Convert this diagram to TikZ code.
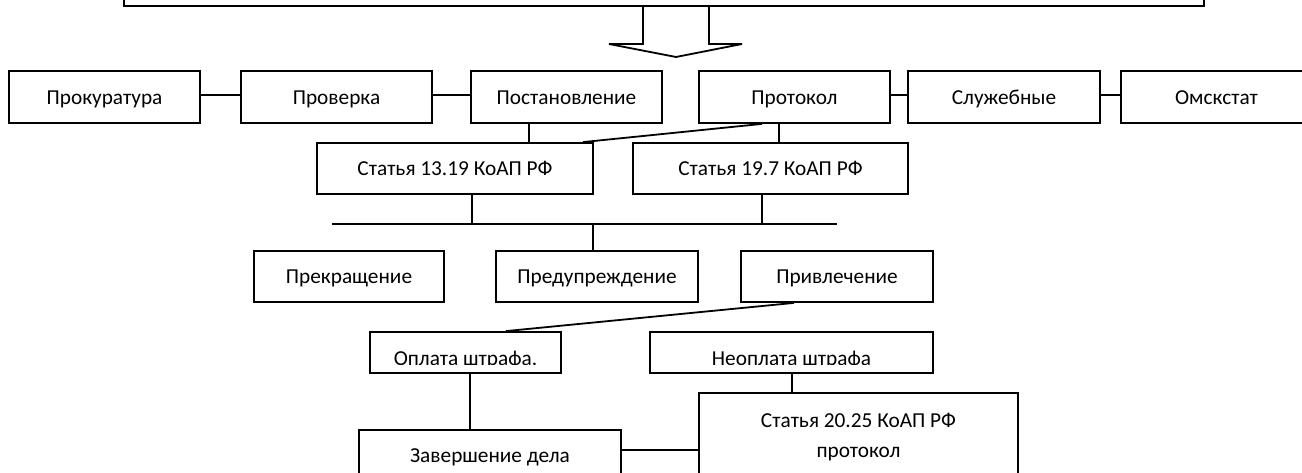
\documentclass[tikz,border=0pt]{standalone}
\usepackage{fontspec}
\setmainfont{Carlito}
\usetikzlibrary{calc}
\tikzset{
  txt/.style={font=\fontsize{21.3}{25}\selectfont, text height=17pt, text depth=2.5pt},
  box/.style={draw, line width=1.8pt, rectangle, inner sep=0pt, txt},
  conn/.style={draw, line width=1.8pt},
  lbl/.style={inner sep=0pt, txt}
}
\begin{document}
\begin{tikzpicture}[x=1pt,y=-1pt]
\useasboundingbox (0,0) rectangle (1302,473);
\clip (0,0) rectangle (1302,473);
% top box
\node[box, minimum width=1080pt, minimum height=80pt] (top) at (664,-34) {};
% block arrow
\draw[line width=1.8pt, line join=miter, fill=white] (643,6) -- (643,44) -- (609,44) -- (676,57) -- (742,44) -- (709,44) -- (709,6) -- cycle;
% row 1
\node[box, minimum width=191pt, minimum height=52pt] (prok) at (104.5,97) {Прокуратура};
\node[box, minimum width=191pt, minimum height=52pt] (prov) at (336.5,97) {Проверка};
\node[box, minimum width=191pt, minimum height=52pt] (post) at (566.5,97) {Постановление};
\node[box, minimum width=191pt, minimum height=52pt] (protokol) at (794.5,97) {Протокол};
\node[box, minimum width=192pt, minimum height=52pt] (sluzh) at (1004,97) {Служебные};
\node[box, minimum width=191pt, minimum height=52pt] (omsk) at (1216.5,97) {Омскстат};
% row 2
\node[box, minimum width=276pt, minimum height=51pt] (st1319) at (455,168.5) {Статья 13.19 КоАП РФ};
\node[box, minimum width=275pt, minimum height=51pt] (st197) at (770.5,168.5) {Статья 19.7 КоАП РФ};
% row 3
\node[box, minimum width=190pt, minimum height=51pt] (prekr) at (349,276.5) {Прекращение};
\node[box, minimum width=202pt, minimum height=51pt] (predupr) at (597,276.5) {Предупреждение};
\node[box, minimum width=192pt, minimum height=51pt] (privl) at (837,276.5) {Привлечение};
% row 4
\node[box, minimum width=191pt, minimum height=41pt] (oplata) at (465.5,352.5) {};
\node[box, minimum width=283pt, minimum height=41pt] (neoplata) at (791.5,352.5) {};
\begin{scope}
\clip (370,332) rectangle (933,364.5);
\node[lbl, anchor=base] (oplatatxt) at (465.5,365.5) {Оплата штрафа.};
\node[lbl, anchor=base] (neoplatatxt) at (791.5,365.5) {Неоплата штрафа};
\end{scope}
% row 5
\node[box, minimum width=262pt, minimum height=50pt] (zaversh) at (490,455) {Завершение дела};
\node[box, minimum width=319pt, minimum height=84pt] (st2025) at (858.5,435) {};
\node[lbl] (st2025a) at (858.5,420) {Статья 20.25 КоАП РФ};
\node[lbl] (st2025b) at (858.5,450) {протокол};
% bus coordinates
\coordinate (busL) at (332,224);
\coordinate (busR) at (837,224);
% connectors
\draw[conn] (prok.east |- 0,95) -- (prov.west |- 0,95);
\draw[conn] (prov.east |- 0,95) -- (post.west |- 0,95);
\draw[conn] (protokol.east |- 0,95) -- (sluzh.west |- 0,95);
\draw[conn] (sluzh.east |- 0,95) -- (omsk.west |- 0,95);
\draw[conn] (post.south -| 529,0) -- (st1319.north -| 529,0);
\draw[conn] (protokol.south -| 762,0) -- (st1319.north -| 583,0);
\draw[conn] (protokol.south -| 779,0) -- (st197.north -| 779,0);
\draw[conn] (busL) -- (busR);
\draw[conn] (st1319.south -| 472,0) -- (busL -| 472,0);
\draw[conn] (st197.south -| 762,0) -- (busL -| 762,0);
\draw[conn] (busL -| 593,0) -- (predupr.north -| 593,0);
\draw[conn] (privl.south -| 794,0) -- (oplata.north -| 506,0);
\draw[conn] (oplata.south -| 470,0) -- (zaversh.north -| 470,0);
\draw[conn] (neoplata.south -| 792,0) -- (st2025.north -| 792,0);
\draw[conn] (zaversh.east |- 0,450) -- (st2025.west |- 0,450);
\end{tikzpicture}
\end{document}
